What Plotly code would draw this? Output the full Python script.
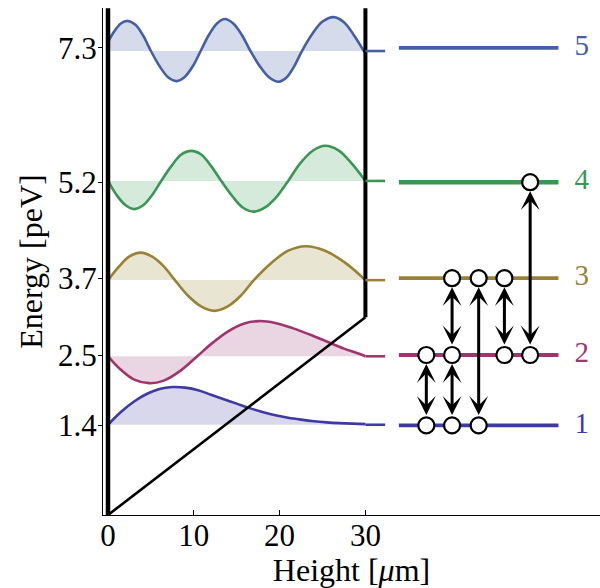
import plotly.graph_objects as go

# ---------------- data ----------------
levels = [1.4, 2.5, 3.7, 5.2, 7.3]            # energy levels [peV]
level_names = ["1", "2", "3", "4", "5"]
tick_text = ["1.4", "2.5", "3.7", "5.2", "7.3"]
wave_base = [1.41, 2.48, 3.67, 5.22, 7.25]    # baselines of the drawn wavefunctions

# wavefunctions (height [um], offset from baseline [peV])
psi1_x = [0, 1.5, 3, 4.5, 6, 7.5, 9, 10.5, 12, 13.5, 15, 16.5, 18, 19.5, 21, 22.5, 24, 25.5, 27, 28.5, 30]
psi1_y = [0, 0.20, 0.36, 0.48, 0.56, 0.59, 0.58, 0.54, 0.47, 0.40, 0.33, 0.26, 0.20, 0.15, 0.11, 0.08, 0.055, 0.038, 0.026, 0.017, 0.01]

psi2_x = [0, 1.5, 3, 4.8, 6.5, 8.5, 10.4, 12, 14, 15.8, 17.6, 19.5, 21.5, 23.5, 25.5, 27.5, 29, 30]
psi2_y = [0, -0.21, -0.36, -0.42, -0.38, -0.22, 0, 0.19, 0.39, 0.51, 0.55, 0.52, 0.44, 0.34, 0.23, 0.12, 0.05, 0]

psi3_x = [0, 1.3, 2.5, 3.8, 5.1, 6.5, 7.8, 9.3, 10.9, 12.4, 13.9, 15.5, 17.0, 19.0, 21.0, 23.0, 25.3, 27.7, 30]
psi3_y = [0, 0.215, 0.37, 0.43, 0.37, 0.215, 0, -0.24, -0.415, -0.48, -0.415, -0.24, 0, 0.265, 0.46, 0.53, 0.46, 0.265, 0]

psi4_x = [0, 1.0, 2.05, 3.06, 4.1, 5.15, 6.2, 7.4, 8.5, 9.7, 10.9, 12.0, 13.2, 14.5, 15.7, 17.0, 18.3, 19.7, 21.0,
          22.4, 23.9, 25.3, 26.9, 28.4, 30]
psi4_y = [0, -0.22, -0.38, -0.44, -0.38, -0.22, 0, 0.235, 0.41, 0.47, 0.41, 0.235, 0, -0.24, -0.415, -0.48, -0.415, -0.24, 0,
          0.275, 0.475, 0.55, 0.475, 0.275, 0]

psi5_x = [0, 0.7, 1.5, 2.3, 3.2, 4.1, 5.0, 6.0, 7.0, 8.0, 8.9, 9.9, 10.8, 11.75, 12.7, 13.6, 14.6, 15.6, 16.6,
          17.7, 18.8, 19.9, 20.8, 21.7, 22.6, 23.8, 25.0, 26.3, 27.5, 28.7, 30]
psi5_y = [0.14, 0.30, 0.43, 0.47, 0.41, 0.24, 0, -0.235, -0.41, -0.47, -0.41, -0.235, 0, 0.25, 0.43, 0.50, 0.43, 0.25, 0,
          -0.24, -0.415, -0.48, -0.415, -0.24, 0, 0.265, 0.46, 0.53, 0.45, 0.24, -0.04]

psi_x = [psi1_x, psi2_x, psi3_x, psi4_x, psi5_x]
psi_y = [psi1_y, psi2_y, psi3_y, psi4_y, psi5_y]

# gravitational potential and walls
pot_x = [0, 30]
pot_y = [0, 3.09]
wall_top = 7.92

# level diagram on the right
stub_x = [30, 32.3]
line_x = [33.9, 52.5]
label_x = 55.2
# transitions: (x position, lower level index, upper level index)
trans_x = [37.1, 40.1, 40.1, 43.2, 46.2, 49.2]
trans_lo = [0, 0, 1, 0, 1, 1]
trans_hi = [1, 1, 2, 2, 2, 3]

line_colors = ["rgb(62,58,162)", "rgb(160,52,110)", "rgb(152,130,52)", "rgb(58,150,85)", "rgb(68,96,162)"]
fill_colors = ["rgb(216,215,236)", "rgb(234,214,226)", "rgb(233,229,211)", "rgb(214,234,219)", "rgb(213,219,234)"]

FONT = "Liberation Serif"

fig = go.Figure()

# wavefunctions with fills to their baselines
for i in range(5):
    fig.add_trace(go.Scatter(x=[0, 30], y=[wave_base[i], wave_base[i]], mode="lines",
                             line=dict(width=0, color=fill_colors[i]), hoverinfo="skip", showlegend=False))
    fig.add_trace(go.Scatter(x=psi_x[i], y=[wave_base[i] + v for v in psi_y[i]], mode="lines",
                             line=dict(color=line_colors[i], width=2.6, shape="spline", smoothing=1.0),
                             fill="tonexty", fillcolor=fill_colors[i], showlegend=False))

# potential and walls
fig.add_trace(go.Scatter(x=pot_x, y=pot_y, mode="lines", line=dict(color="black", width=2.6), showlegend=False))
fig.add_trace(go.Scatter(x=[0, 0], y=[0, wall_top], mode="lines", line=dict(color="black", width=4.5), showlegend=False))
fig.add_trace(go.Scatter(x=[pot_x[1], pot_x[1]], y=[pot_y[1], wall_top], mode="lines",
                         line=dict(color="black", width=4), showlegend=False))

# right-hand level lines
for i in range(5):
    fig.add_trace(go.Scatter(x=stub_x, y=[wave_base[i]] * 2, mode="lines",
                             line=dict(color=line_colors[i], width=2.6), showlegend=False))
    fig.add_trace(go.Scatter(x=line_x, y=[levels[i]] * 2, mode="lines",
                             line=dict(color=line_colors[i], width=4.6 if i == 3 else 3.8), showlegend=False))

# level labels
fig.add_trace(go.Scatter(x=[label_x] * 5, y=levels, mode="text", text=level_names,
                         textfont=dict(family=FONT, size=29, color=line_colors), textposition="middle center",
                         showlegend=False))

# circles on transitions
cx, cy = [], []
for x, lo, hi in zip(trans_x, trans_lo, trans_hi):
    for lv in (lo, hi):
        if (x, lv) not in zip(cx, cy):
            cx.append(x)
            cy.append(lv)
fig.add_trace(go.Scatter(x=cx, y=[levels[j] for j in cy], mode="markers",
                         marker=dict(size=16, color="white", line=dict(color="black", width=2.2)),
                         showlegend=False))

# arrows
for x, lo, hi in zip(trans_x, trans_lo, trans_hi):
    fig.add_annotation(x=x, y=levels[hi], ax=x, ay=levels[lo], xref="x", yref="y", axref="x", ayref="y",
                       text="", showarrow=True, arrowside="end+start", arrowhead=3, startarrowhead=3,
                       arrowsize=1.05, startarrowsize=1.05, arrowwidth=3, arrowcolor="black",
                       standoff=9, startstandoff=9)

fig.update_layout(
    width=600, height=588,
    margin=dict(l=103, r=0, t=8, b=73),
    paper_bgcolor="white", plot_bgcolor="white",
    font=dict(family=FONT, size=31, color="black"),
    xaxis=dict(range=[-0.583, 57.34], tickvals=[0, 10, 20, 30], ticks="inside", ticklen=5, tickwidth=1,
               tickcolor="black", showline=True, linecolor="black", linewidth=1, showgrid=False, zeroline=False,
               ticklabelstandoff=-7,
               title=dict(text="Height [<i>μ</i>m]", font=dict(family=FONT, size=32), standoff=0),
               tickfont=dict(family=FONT, size=31)),
    yaxis=dict(range=[0, 7.922], tickvals=levels, ticktext=tick_text, ticks="outside", ticklen=4, tickwidth=1,
               tickcolor="black", showline=True, linecolor="black", linewidth=1, showgrid=False, zeroline=False,
               ticklabelstandoff=-5,
               title=dict(text="Energy [peV]", font=dict(family=FONT, size=32), standoff=5),
               tickfont=dict(family=FONT, size=31)),
    showlegend=False,
)

fig.write_html("out.html")
